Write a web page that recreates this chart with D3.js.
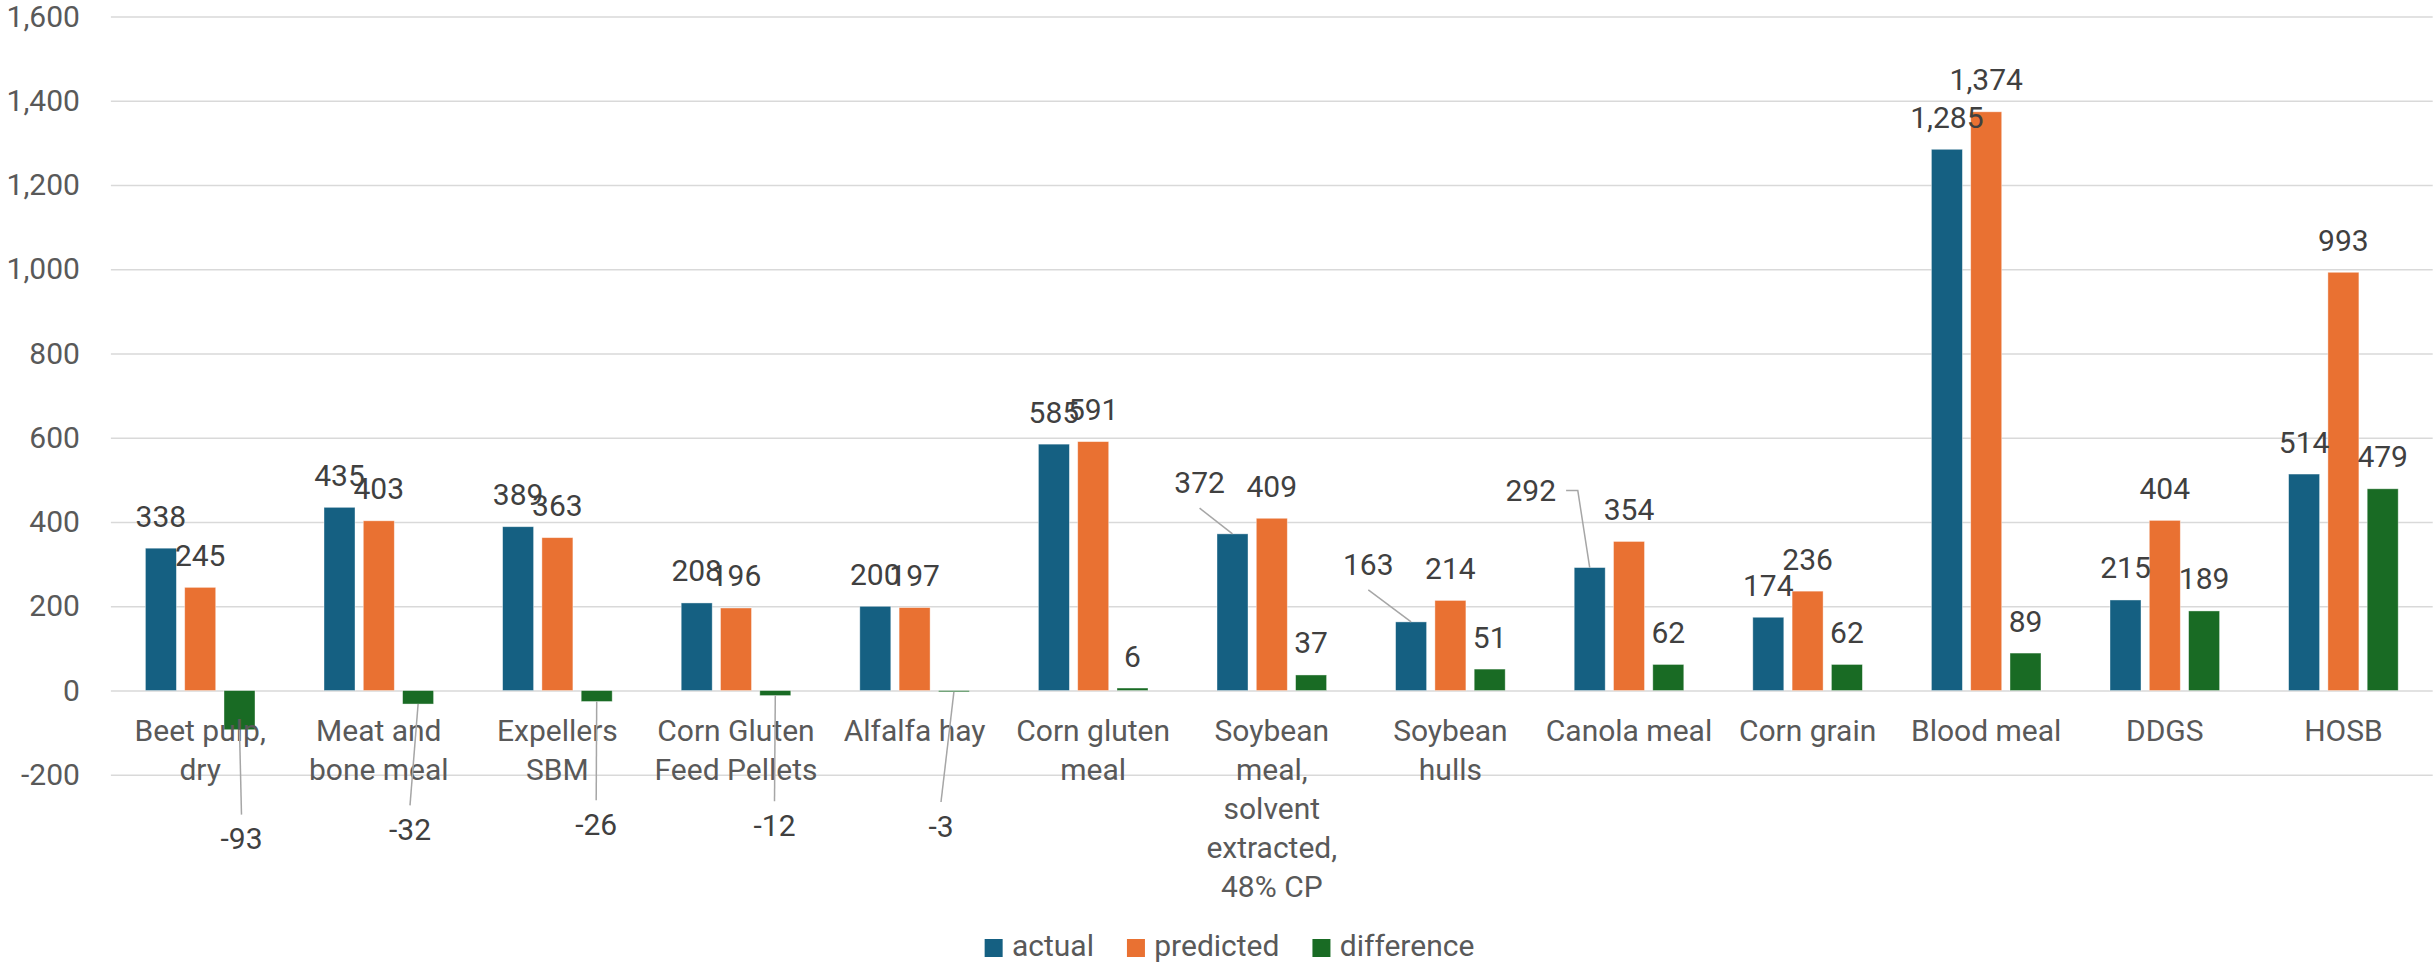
<!DOCTYPE html>
<html>
<head>
<meta charset="utf-8">
<script src="https://cdn.jsdelivr.net/npm/d3@7/dist/d3.min.js"></script>
<style>
  html, body { margin: 0; padding: 0; background: #ffffff; }
  svg { display: block; font-family: Roboto, "Noto Sans", sans-serif; }
</style>
</head>
<body>
<svg id="chart" width="2433" height="963"></svg>
<script>
// Feed ingredients and their actual / predicted values
const categories = [
  "Beet pulp, dry", "Meat and bone meal", "Expellers SBM", "Corn Gluten Feed Pellets",
  "Alfalfa hay", "Corn gluten meal", "Soybean meal, solvent extracted, 48% CP",
  "Soybean hulls", "Canola meal", "Corn grain", "Blood meal", "DDGS", "HOSB"
];
const actual     = [338, 435, 389, 208, 200, 585, 372, 163, 292, 174, 1285, 215, 514];
const predicted  = [245, 403, 363, 196, 197, 591, 409, 214, 354, 236, 1374, 404, 993];
const difference = [-93, -32, -26, -12, -3, 6, 37, 51, 62, 62, 89, 189, 479];
const seriesNames = ["actual", "predicted", "difference"];
const yTicks = [-200, 0, 200, 400, 600, 800, 1000, 1200, 1400, 1600];

const seriesValues = [actual, predicted, difference];
const colors = ["#156082", "#E97132", "#196B24"];

// Hand-placed data labels (offsets from the bar end) with leader lines
const labelNudges = {
  "difference|0": { dx: 2,     dy: 119.4, leader: "down" },
  "difference|1": { dx: -8.1,  dy: 135.8, leader: "down" },
  "difference|2": { dx: -0.5,  dy: 133.3, leader: "down" },
  "difference|3": { dx: -0.8,  dy: 140.2, leader: "down" },
  "difference|4": { dx: -12.9, dy: 144.7, leader: "down" },
  "actual|6":     { dx: -32.9, dy: -40.7, leader: "up" },
  "actual|7":     { dx: -42.8, dy: -47,   leader: "up" },
  "actual|8":     { dx: -58.9, dy: -67,   leader: "elbow" }
};

const svg = d3.select("#chart");
const plot = { left: 110.9, right: 2432.7, top: 16.6, bottom: 774.8 };

const x = d3.scaleBand()
  .domain(d3.range(categories.length))
  .range([plot.left, plot.right])
  .paddingInner(0).paddingOuter(0);

const groupWidth = 109.6;
const xs = d3.scaleBand()
  .domain(seriesNames)
  .range([(x.bandwidth() - groupWidth) / 2, (x.bandwidth() + groupWidth) / 2])
  .paddingInner(0.211).paddingOuter(0);

const y = d3.scaleLinear().domain([-200, 1600]).range([plot.bottom, plot.top]);

const fmt = v => d3.format(",")(v).replace("\u2212", "-");

// Gridlines and y tick labels
const yAxis = d3.axisLeft(y).tickValues(yTicks)
  .tickSize(-(plot.right - plot.left)).tickPadding(31).tickFormat(fmt);
const gy = svg.append("g").attr("transform", `translate(${plot.left},0)`).call(yAxis);
gy.select(".domain").remove();
gy.selectAll(".tick line").attr("stroke", "#d9d9d9").attr("stroke-width", 1.5);
gy.selectAll(".tick text")
  .attr("fill", "#595959").attr("font-size", 30).attr("font-family", "Roboto, sans-serif");

// Bars
const bars = [];
seriesNames.forEach((s, si) => {
  seriesValues[si].forEach((v, ci) => {
    bars.push({ s, si, ci, v, cx: x(ci) + xs(s) + xs.bandwidth() / 2 });
  });
});

svg.append("g").selectAll("rect").data(bars).join("rect")
  .attr("x", d => x(d.ci) + xs(d.s))
  .attr("width", xs.bandwidth())
  .attr("y", d => Math.min(y(d.v), y(0)))
  .attr("height", d => Math.abs(y(d.v) - y(0)))
  .attr("fill", d => colors[d.si])
  .attr("stroke", "#ffffff").attr("stroke-opacity", 0.5).attr("stroke-width", 0.8);

// Category labels, word-wrapped to the band width
const catG = svg.append("g").attr("fill", "#595959").attr("font-size", 30)
  .attr("text-anchor", "middle");
const maxLineWidth = 175;
categories.forEach((name, ci) => {
  const t = catG.append("text").attr("x", x(ci) + x.bandwidth() / 2).attr("y", 741);
  const words = name.split(" ");
  let lines = [], line = [];
  const probe = catG.append("text").attr("visibility", "hidden");
  words.forEach(w => {
    const trial = line.concat(w).join(" ");
    probe.text(trial);
    if (line.length && probe.node().getComputedTextLength() > maxLineWidth) {
      lines.push(line.join(" "));
      line = [w];
    } else {
      line.push(w);
    }
  });
  lines.push(line.join(" "));
  probe.remove();
  lines.forEach((l, li) => {
    t.append("tspan").attr("x", x(ci) + x.bandwidth() / 2).attr("dy", li === 0 ? 0 : 39).text(l);
  });
});

// Data labels and leader lines
const labelG = svg.append("g");
const leaderG = labelG.append("g").attr("stroke", "#a6a6a6").attr("stroke-width", 1.5).attr("fill", "none");
const textG = labelG.append("g").attr("fill", "#404040").attr("font-size", 30).attr("text-anchor", "middle");

bars.forEach(d => {
  const nudge = labelNudges[`${d.s}|${d.ci}`];
  let lx = d.cx, ly = y(d.v) - 21.5;
  if (nudge) { lx = d.cx + nudge.dx; ly = y(d.v) + nudge.dy; }
  const txt = textG.append("text").attr("x", lx).attr("y", ly).text(fmt(d.v));
  if (!nudge) return;
  const half = txt.node().getComputedTextLength() / 2;
  let pts;
  if (nudge.leader === "down") {
    pts = [[d.cx, y(d.v)], [lx, ly - 34.5]];
  } else if (nudge.leader === "up") {
    pts = [[lx, ly + 15], [d.cx, y(d.v)]];
  } else {
    pts = [[lx + half + 10, ly - 10], [lx + half + 21.7, ly - 10], [d.cx, y(d.v)]];
  }
  leaderG.append("path").attr("d", d3.line()(pts));
});

// Legend
const legend = svg.append("g").attr("font-size", 30).attr("fill", "#595959");
let cursor = 0;
const items = [];
seriesNames.forEach((s, si) => {
  const g = legend.append("g");
  g.append("rect").attr("x", cursor).attr("y", 939).attr("width", 18).attr("height", 18)
    .attr("fill", colors[si]);
  const t = g.append("text").attr("x", cursor + 27.3).attr("y", 956).text(s);
  const w = t.node().getComputedTextLength();
  cursor += 27.3 + w + 33;
});
const legendWidth = cursor - 33;
legend.attr("transform", `translate(${1229.5 - legendWidth / 2},0)`);
</script>
</body>
</html>
